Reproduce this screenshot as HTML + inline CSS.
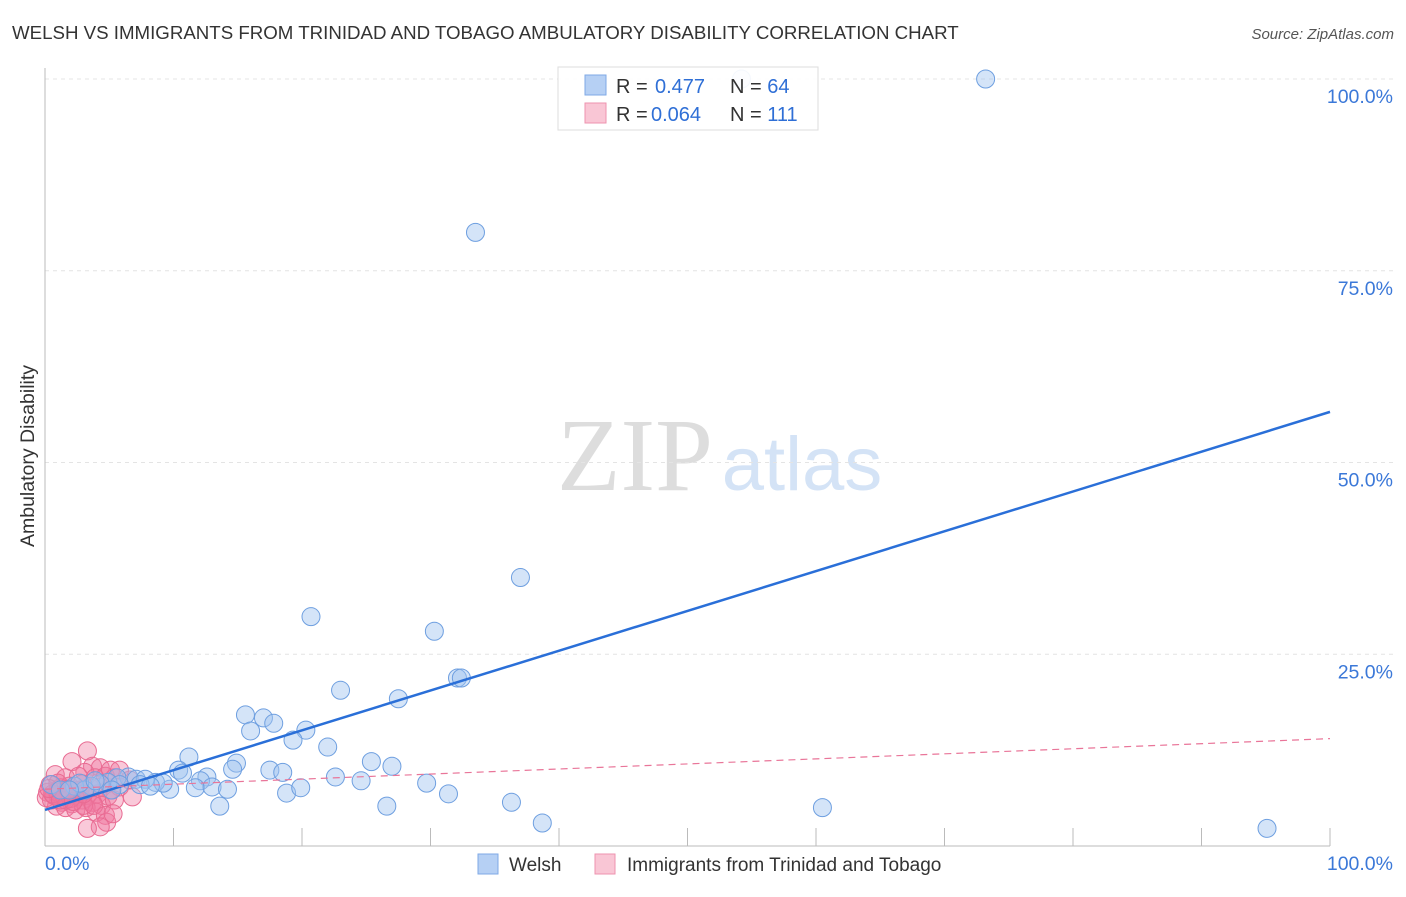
<!DOCTYPE html>
<html><head><meta charset="utf-8"><style>
body{margin:0;background:#fff;font-family:"Liberation Sans",sans-serif}
</style></head><body>
<svg width="1406" height="892" xmlns="http://www.w3.org/2000/svg">
<text x="12" y="39" font-size="18.7" fill="#333">WELSH VS IMMIGRANTS FROM TRINIDAD AND TOBAGO AMBULATORY DISABILITY CORRELATION CHART</text>
<text x="1394" y="39" font-size="15" fill="#555" font-style="italic" text-anchor="end">Source: ZipAtlas.com</text>
<g>
<text x="635" y="490" font-size="104" fill="#ddd" font-family="Liberation Serif" text-anchor="middle">ZIP</text>
<text x="802" y="490" font-size="76" fill="#d4e3f6" text-anchor="middle">atlas</text>
</g>
<g id="grid"></g><g id="axes"></g><g id="pink"></g><g id="blue"></g><g id="lines"></g>
<text x="34" y="456" font-size="19.5" fill="#333" transform="rotate(-90 34 456)" text-anchor="middle">Ambulatory Disability</text>
<g>
<rect x="558" y="67" width="260" height="63" fill="#fff" stroke="#ddd" fill-opacity="0.92"/>
<rect x="585" y="75" width="21" height="20" fill="#b6d0f4" stroke="#7fa9e6"/>
<rect x="585" y="103" width="21" height="20" fill="#f9c6d5" stroke="#ee93af"/>
<text x="616" y="93" font-size="20" fill="#333">R = <tspan x="655" fill="#2f6fd6">0.477</tspan></text>
<text x="730" y="93" font-size="20" fill="#333">N = <tspan fill="#2f6fd6">64</tspan></text>
<text x="616" y="121" font-size="20" fill="#333">R = <tspan x="651" fill="#2f6fd6">0.064</tspan></text>
<text x="730" y="121" font-size="20" fill="#333">N = <tspan fill="#2f6fd6">111</tspan></text>
</g>
<g>
<rect x="478" y="854" width="20" height="20" fill="#b6d0f4" stroke="#7fa9e6"/>
<text x="509" y="871" font-size="19" fill="#333">Welsh</text>
<rect x="595" y="854" width="20" height="20" fill="#f9c6d5" stroke="#ee93af"/>
<text x="627" y="871" font-size="19" fill="#333">Immigrants from Trinidad and Tobago</text>
</g>
</svg>
<script>
const yTicks=[25,50,75,100];
const yTickLabels=["25.0%","50.0%","75.0%","100.0%"];
const xTicks=[10,20,30,40,50,60,70,80,90,100];
const blueX=[73.2,54.2,33.5,37.0,20.7,30.3,32.1,32.4,23.0,27.5,15.6,17.0,17.8,16.0,20.3,19.3,22.0,11.2,14.9,10.4,10.7,14.6,25.4,27.0,17.5,18.5,22.6,12.6,12.1,24.6,29.7,11.7,13.0,14.2,18.8,19.9,31.4,9.7,8.6,9.2,6.5,7.1,7.8,5.6,4.9,4.3,3.6,2.3,0.5,26.6,13.6,36.3,60.5,38.7,95.1,1.2,3.1,7.4,5.8,8.2,5.2,2.7,3.9,1.9];
const blueY=[100,100,80.0,35.0,29.9,28.0,21.9,21.9,20.3,19.2,17.1,16.7,16.0,15.0,15.1,13.8,12.9,11.6,10.8,9.9,9.5,10.0,11.0,10.4,9.9,9.6,9.0,9.0,8.5,8.5,8.2,7.6,7.7,7.4,6.9,7.6,6.8,7.4,8.3,8.2,9.0,8.7,8.7,8.9,8.3,8.1,7.8,7.8,8.0,5.2,5.2,5.7,5.0,3.0,2.3,7.3,7.3,8.0,8.0,7.8,7.3,8.2,8.5,7.3];
const pinkX=[3.3,2.1,3.7,4.3,3.1,0.8,1.6,2.6,3.9,4.7,5.4,6.6,0.4,1.2,1.9,2.7,3.5,4.3,5.1,5.8,0.2,1.0,1.8,2.6,3.3,4.1,4.9,0.5,1.3,2.1,2.9,3.7,4.4,5.4,6.8,0.9,1.6,2.4,3.2,4.0,0.1,0.7,1.5,2.3,3.0,3.8,4.7,4.8,4.3,3.3,5.3,1.6,1.0,2.9,5.1,5.8,1.0,1.5,2.0,2.5,0.6,1.2,2.2,3.0,0.3,1.8];
const pinkY=[12.4,11.0,10.4,10.2,9.6,9.3,8.9,9.1,8.9,9.1,8.9,8.6,8.0,7.6,7.8,7.3,7.6,7.7,7.3,7.7,7.0,6.6,6.9,6.4,6.6,6.8,6.5,6.0,5.7,5.5,6.0,5.7,5.3,6.0,6.4,5.2,5.0,4.7,5.0,4.4,6.3,6.6,7.3,6.6,5.3,5.3,4.0,3.1,2.5,2.3,4.2,6.0,8.2,8.1,9.9,9.9,7.0,6.5,6.2,7.2,6.8,6.0,5.8,6.8,7.5,7.4];
const blueTrend=[4.7,56.6];
const pinkTrend=[7.4,14.0];
const NS="http://www.w3.org/2000/svg";
const X=v=>45+v*12.85, Y=v=>846-v*7.67;
function mk(t,a,p){const e=document.createElementNS(NS,t);for(const k in a)e.setAttribute(k,a[k]);document.getElementById(p).appendChild(e);return e;}
yTicks.forEach((t,i)=>{
 const l=mk('line',{x1:45,x2:1394,y1:Y(t),y2:Y(t),stroke:'#e4e4e4','stroke-dasharray':'4,4'},'grid');
 
 
 const tx=mk('text',{x:1393,y:Y(t)+24,'font-size':19.5,fill:'#3b78d8','text-anchor':'end'},'grid');
 tx.textContent=yTickLabels[i];
 
 
});
const ax=mk('line',{x1:45,x2:1330,y1:846,y2:846,stroke:'#bbb'},'axes');


const ay=mk('line',{x1:45,x2:45,y1:68,y2:846,stroke:'#bbb'},'axes');


xTicks.forEach(t=>{
 const l=mk('line',{x1:X(t),x2:X(t),y1:828,y2:846,stroke:'#bbb'},'axes');
 
 
});
const xl0=mk('text',{x:45,y:870,'font-size':19.5,fill:'#3b78d8'},'axes');xl0.textContent='0.0%';


const xl1=mk('text',{x:1393,y:870,'font-size':19.5,fill:'#3b78d8','text-anchor':'end'},'axes');xl1.textContent='100.0%';


pinkX.forEach((v,i)=>{
 const c=mk('circle',{cx:X(v),cy:Y(pinkY[i]),r:9,fill:'rgba(240,120,160,0.4)',stroke:'#e86b92','stroke-width':1},'pink');
 
 
});
blueX.forEach((v,i)=>{
 const c=mk('circle',{cx:X(v),cy:Y(blueY[i]),r:9,fill:'rgba(160,195,240,0.45)',stroke:'#6e9fe0','stroke-width':1},'blue');
 
 
});
const bl=mk('line',{x1:X(0),y1:Y(blueTrend[0]),x2:X(100),y2:Y(blueTrend[1]),stroke:'#2a6fd8','stroke-width':2.5},'lines');


const pl=mk('line',{x1:X(0),y1:Y(pinkTrend[0]),x2:X(100),y2:Y(pinkTrend[1]),stroke:'#e97599','stroke-width':1.2,'stroke-dasharray':'7,5'},'lines');


</script>
</body></html>
